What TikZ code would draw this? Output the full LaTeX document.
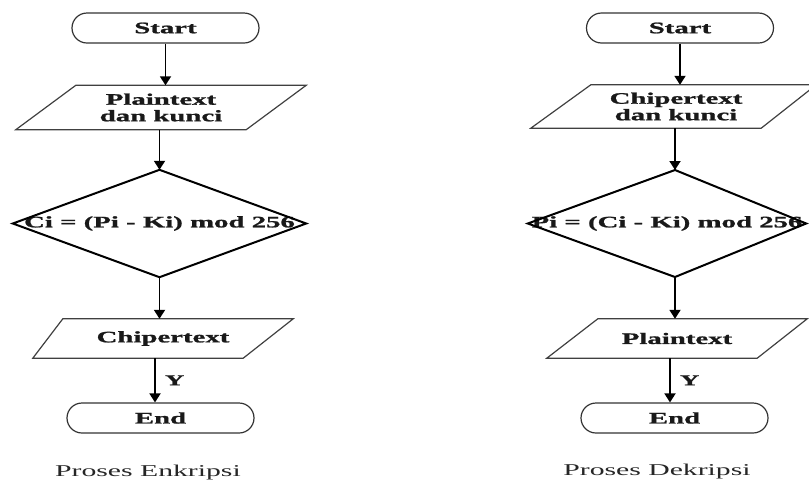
\documentclass[tikz,border=0pt]{standalone}
\usepackage{fontspec}
\setmainfont{Liberation Serif}[FakeStretch=1.8, BoldFeatures={FakeBold=1.3}]
\usetikzlibrary{arrows.meta,shapes.misc}
\begin{document}
\begin{tikzpicture}[x=1pt,y=-1pt,
  lbl/.style={font=\fontsize{16}{16.5}\selectfont\bfseries, text=black!90, align=center, inner sep=0pt},
  term/.style={lbl, draw=black!80, line width=1.2pt, rounded rectangle, minimum width=187pt, minimum height=30pt},
  box/.style={lbl, rectangle, minimum height=#1},
  outline/.style={draw=black!75, line width=1.2pt, line join=miter},
  decideline/.style={draw=black, line width=2pt, line join=miter},
  flow/.style={line width=1.8pt, -{Triangle[width=11pt,length=9pt]}},
  capt/.style={font=\fontsize{16.5}{18}\selectfont, text=black!85, inner sep=0pt},
  ylab/.style={font=\fontsize{15}{16}\selectfont\bfseries, text=black!90, inner sep=0pt}
]
\useasboundingbox (0,0) rectangle (809,483);

% ---------- Left: Proses Enkripsi ----------
\node[term] (sL) at (165.5,28) {Start};
\node[box=44pt, minimum width=290pt] (iL) at (161,107.5) {Plaintext\\dan kunci};
\draw[outline] ([xshift=60pt]iL.north west) -- (iL.north east) -- ([xshift=-60pt]iL.south east) -- (iL.south west) -- cycle;
\node[box=107pt, minimum width=293pt] (dL) at (159.5,223.5) {Ci = (Pi - Ki) mod 256};
\draw[decideline] (dL.north) -- (dL.east) -- (dL.south) -- (dL.west) -- cycle;
\node[box=39pt, minimum width=260pt] (oL) at (163,338.5) {Chipertext};
\draw[outline] ([xshift=30pt]oL.north west) -- (oL.north east) -- ([xshift=-50pt]oL.south east) -- (oL.south west) -- cycle;
\node[term] (eL) at (160.5,418) {End};
\node[capt] (cL) at (148,473) {Proses Enkripsi};

\draw[flow] (sL.south) -- (sL.south |- iL.north);
\draw[flow] (dL.north |- iL.south) -- (dL.north);
\draw[flow] (dL.south) -- (dL.south |- oL.north);
\draw[flow] ([xshift=-5.5pt]eL.north |- oL.south) -- node[ylab, right=9pt] (yL) {Y} ([xshift=-5.5pt]eL.north);

% ---------- Right: Proses Dekripsi ----------
\node[term] (sR) at (680,28) {Start};
\node[box=43pt, minimum width=290pt] (iR) at (676,106.5) {Chipertext\\dan kunci};
\draw[outline] ([xshift=60pt]iR.north west) -- ([xshift=-5pt]iR.north east) -- ([xshift=-60pt]iR.south east) -- (iR.south west) -- cycle;
\node[box=107pt, minimum width=278pt] (dR) at (667,223.5) {Pi = (Ci - Ki) mod 256};
\coordinate (dRt) at (675,170);
\coordinate (dRb) at (675,277);
\draw[decideline] (dRt) -- (dR.east) -- (dRb) -- (dR.west) -- cycle;
\node[box=39pt, minimum width=260pt] (oR) at (677,338.5) {Plaintext};
\draw[outline] ([xshift=51pt]oR.north west) -- (oR.north east) -- ([xshift=-50pt]oR.south east) -- (oR.south west) -- cycle;
\node[term] (eR) at (674.5,418) {End};
\node[capt] (cR) at (657,472) {Proses Dekripsi};

\draw[flow] (sR.south) -- (sR.south |- iR.north);
\draw[flow] (dRt |- iR.south) -- (dRt);
\draw[flow] (dRb) -- (dRb |- oR.north);
\draw[flow] ([xshift=-4.5pt]eR.north |- oR.south) -- node[ylab, right=9pt] (yR) {Y} ([xshift=-4.5pt]eR.north);
\end{tikzpicture}
\end{document}
